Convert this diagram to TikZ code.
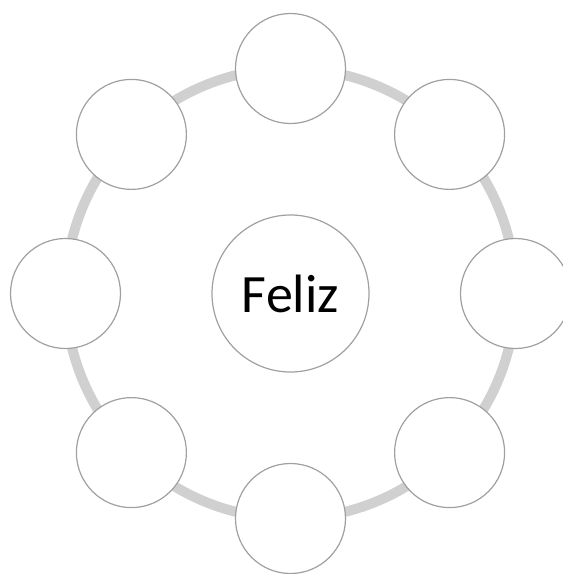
\documentclass[tikz,border=0pt]{standalone}
\usepackage{fontspec}
\setmainfont{Carlito}
\usetikzlibrary{calc}
\definecolor{ringgray}{HTML}{D0D0D0}
\definecolor{edgegray}{HTML}{A0A0A0}
\begin{document}
\begin{tikzpicture}[x=1pt,y=-1pt,
  small/.style={circle,draw=edgegray,line width=1.2pt,fill=white,minimum size=110pt,inner sep=0pt},
  big/.style={circle,draw=edgegray,line width=1.2pt,fill=white,minimum size=157pt,inner sep=0pt,font=\fontsize{54}{60}\selectfont}]
\useasboundingbox (0,0) rectangle (563,574);
\coordinate (c) at (290.5,293.5);
\draw[ringgray,line width=10pt] (c) circle[radius=225];
\node[big] (feliz) at (c) {Feliz};
\foreach \a [count=\i] in {90,45,0,-45,-90,-135,180,135}{
  \node[small] (n\i) at ($(c)+(\a:225)$) {};
}
\end{tikzpicture}
\end{document}
